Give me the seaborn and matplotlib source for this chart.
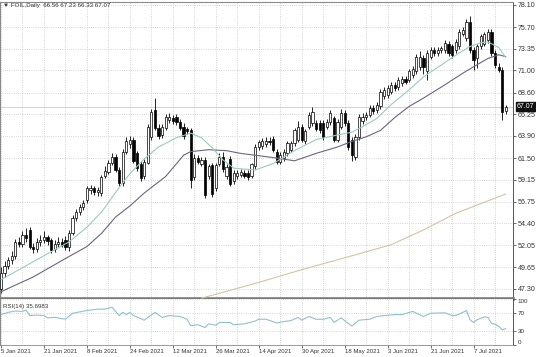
import matplotlib
matplotlib.use("Agg")
import matplotlib.pyplot as plt
import matplotlib.transforms as mtransforms
import seaborn as sns

# daily bars (bar 0 = 5 Jan 2021)
opens = [47.3, 49.0, 49.8, 50.4, 50.9, 52.4, 52.2, 53.2, 53.7, 51.9,
         51.6, 52.4, 52.6, 52.9, 52.6, 51.6, 52.2, 52.4, 52.6, 51.8,
         53.4, 55.0, 55.6, 56.2, 56.9, 58.0, 58.2, 57.8, 57.7, 59.6,
         60.0, 61.0, 61.6, 60.2, 58.8, 62.2, 63.0, 63.5, 62.0, 60.9,
         59.5, 61.0, 63.8, 66.7, 64.8, 64.0, 64.8, 65.6, 65.8, 66.0,
         65.4, 64.9, 64.6, 64.5, 59.4, 61.5, 60.9, 61.3, 59.5, 60.7,
         58.2, 60.9, 61.6, 59.5, 61.4, 59.0, 59.5, 59.7, 59.9, 59.9,
         59.6, 60.6, 62.7, 62.8, 63.0, 63.4, 63.6, 62.2, 61.1, 61.5,
         62.0, 62.4, 63.1, 63.5, 64.9, 63.3, 64.9, 65.3, 65.3, 65.3,
         65.3, 64.9, 65.4, 65.8, 63.5, 64.9, 66.4, 65.3, 63.5, 61.65,
         63.8, 65.5, 65.9, 66.2, 66.9, 66.7, 67.1, 68.2, 68.3, 68.7,
         69.4, 69.2, 69.6, 70.1, 70.0, 70.5, 70.9, 71.4, 72.4, 70.9,
         72.5, 73.2, 72.9, 73.2, 73.2, 73.9, 73.6, 73.2, 73.6, 75.0,
         74.5, 76.3, 73.2, 72.3, 73.6, 73.9, 74.3, 75.2, 72.9, 71.4,
         71.1, 66.56]
highs = [49.7, 50.3, 50.8, 51.4, 52.7, 52.9, 53.6, 53.9, 54.0, 52.3,
         52.8, 53.2, 53.6, 53.2, 52.8, 52.6, 52.9, 52.8, 53.0, 53.7,
         55.3, 56.0, 56.5, 57.0, 58.5, 58.6, 58.5, 58.4, 59.7, 60.6,
         61.3, 62.0, 61.9, 60.5, 62.5, 63.8, 63.9, 63.8, 62.3, 61.2,
         61.4, 65.2, 66.8, 68.0, 65.2, 65.2, 66.3, 66.4, 66.2, 66.3,
         65.7, 65.3, 64.9, 64.8, 61.9, 61.8, 61.6, 61.6, 60.9, 61.0,
         61.0, 62.0, 62.2, 60.8, 61.7, 60.2, 60.2, 60.3, 60.2, 60.2,
         61.0, 63.0, 63.5, 63.7, 63.8, 63.8, 63.9, 62.5, 62.1, 62.5,
         63.4, 63.4, 64.8, 65.5, 65.2, 64.7, 66.5, 67.0, 65.6, 65.6,
         65.6, 65.7, 66.7, 66.1, 65.7, 66.8, 66.7, 65.6, 63.8, 64.1,
         66.3, 66.4, 66.5, 67.2, 67.2, 67.6, 69.0, 69.2, 69.4, 69.7,
         69.7, 70.3, 70.4, 70.4, 71.2, 71.5, 72.8, 73.1, 72.7, 73.2,
         73.5, 73.5, 73.5, 73.7, 74.3, 74.2, 73.9, 74.4, 75.5, 75.7,
         76.6, 76.9, 73.5, 73.9, 75.0, 75.2, 75.5, 75.5, 73.2, 71.8,
         71.4, 67.23]
lows = [46.9, 48.6, 49.5, 50.0, 50.6, 51.8, 51.9, 52.4, 51.6, 51.2,
        51.3, 52.0, 52.3, 52.1, 51.2, 51.3, 51.9, 51.8, 51.5, 51.4,
        53.2, 54.7, 55.3, 55.9, 56.6, 57.6, 57.5, 57.4, 57.4, 59.3,
        59.8, 60.7, 60.0, 58.5, 58.5, 61.9, 62.6, 61.0, 60.1, 59.0,
        59.2, 60.8, 63.5, 64.5, 63.6, 63.7, 64.5, 65.3, 65.2, 65.1,
        64.5, 63.6, 64.1, 58.2, 59.1, 60.8, 60.6, 57.2, 59.2, 57.3,
        57.9, 60.6, 60.0, 59.2, 58.5, 58.7, 59.2, 59.4, 59.3, 59.1,
        59.3, 60.3, 62.4, 62.5, 62.7, 62.9, 62.1, 60.8, 60.8, 61.2,
        61.7, 62.1, 62.8, 63.2, 63.2, 63.0, 64.6, 65.0, 64.4, 64.2,
        63.5, 64.6, 65.1, 63.2, 63.2, 64.6, 65.0, 62.4, 61.2, 61.3,
        63.5, 65.2, 65.6, 65.9, 66.3, 66.4, 66.8, 67.9, 68.0, 68.4,
        68.8, 68.9, 69.3, 69.5, 69.7, 70.2, 70.6, 71.1, 70.6, 70.0,
        72.2, 72.6, 72.6, 72.9, 72.9, 72.6, 72.4, 72.9, 73.3, 74.7,
        74.2, 72.9, 71.0, 71.3, 73.3, 73.6, 74.0, 72.6, 71.3, 70.8,
        65.6, 66.33]
closes = [49.0, 49.8, 50.4, 50.9, 52.4, 52.2, 53.2, 52.8, 51.9, 51.6,
          52.4, 52.6, 52.9, 52.5, 51.5, 52.2, 52.4, 52.1, 51.8, 53.4,
          55.0, 55.6, 56.2, 56.6, 58.2, 58.2, 57.8, 58.0, 59.4, 60.1,
          61.0, 61.6, 60.2, 58.8, 62.2, 63.3, 63.5, 61.2, 60.4, 59.3,
          61.1, 64.9, 66.5, 64.8, 63.9, 64.9, 66.0, 66.0, 65.5, 65.4,
          64.8, 63.9, 64.4, 59.1, 61.5, 61.1, 61.3, 57.5, 60.6, 57.6,
          60.7, 61.6, 60.3, 60.5, 58.7, 59.9, 59.9, 60.0, 59.6, 59.4,
          60.8, 62.7, 63.2, 63.4, 63.4, 63.2, 62.4, 61.1, 61.8, 62.2,
          63.1, 63.1, 64.5, 64.9, 63.5, 64.4, 66.2, 66.5, 64.7, 64.5,
          63.8, 65.4, 66.4, 63.5, 65.4, 66.4, 65.3, 62.7, 61.8, 63.8,
          66.0, 66.0, 66.2, 66.9, 66.6, 67.3, 68.7, 68.9, 69.1, 69.4,
          69.1, 70.0, 70.1, 69.8, 70.9, 71.2, 72.5, 72.5, 71.4, 72.9,
          73.2, 72.9, 73.2, 73.4, 74.0, 72.9, 72.7, 74.1, 75.2, 75.4,
          76.3, 73.2, 72.1, 73.6, 74.7, 74.9, 75.2, 72.9, 71.6, 71.1,
          66.5, 67.07]

date_labels = ["5 Jan 2021", "21 Jan 2021", "8 Feb 2021", "24 Feb 2021",
               "12 Mar 2021", "26 Mar 2021", "14 Apr 2021", "30 Apr 2021",
               "18 May 2021", "3 Jun 2021", "21 Jun 2021", "7 Jul 2021"]
price_ticks = [78.10, 75.70, 73.35, 71.00, 68.60, 66.25, 63.90,
               61.50, 59.15, 56.75, 54.40, 52.05, 49.65, 47.30]
rsi_ticks = [0, 30, 70, 100]

# moving averages, sampled along the lines
fast_ma_bars = [0, 6, 12, 19, 24, 28, 33, 36, 40, 44, 49, 53, 56, 59, 62, 65,
                71, 76, 82, 88, 94, 98, 101, 105, 109, 114, 118, 123, 128,
                131, 134, 136, 139, 141]
fast_ma_vals = [48.3, 49.6, 50.9, 52.4, 54.0, 55.6, 58.3, 59.8, 61.4, 62.7,
                63.7, 64.2, 63.7, 62.6, 61.3, 60.4, 60.2, 60.9, 62.3, 63.5,
                64.0, 64.3, 64.9, 65.8, 67.3, 68.9, 70.3, 71.6, 72.9, 73.6,
                74.0, 74.1, 73.5, 72.4]
mid_ma_bars = [0, 9, 18, 24, 28, 32, 36, 40, 46, 51, 53, 58, 63, 67, 71, 77,
               82, 88, 94, 98, 102, 106, 110, 114, 118, 123, 129, 132, 136,
               139, 141]
mid_ma_vals = [47.0, 48.6, 50.6, 51.9, 53.3, 55.1, 56.3, 57.7, 59.5, 61.8,
               62.2, 62.4, 62.3, 62.0, 61.8, 61.5, 61.2, 62.0, 62.7, 63.3,
               63.8, 64.5, 65.9, 67.1, 68.0, 69.2, 70.7, 71.4, 72.3, 72.7,
               72.5]
slow_ma_bars = [56, 71, 85, 99, 109, 118, 127, 135, 141]
slow_ma_vals = [46.3, 47.9, 49.5, 51.0, 52.1, 53.7, 55.5, 56.7, 57.6]

rsi_bars = [0, 2, 4, 6, 7, 8, 10, 12, 13, 15, 18, 20, 24, 27, 29, 31, 33, 34,
            35, 36, 37, 40, 43, 45, 47, 50, 52, 53, 55, 57, 58, 60, 61, 64,
            65, 68, 71, 72, 74, 77, 79, 81, 83, 84, 86, 88, 90, 92, 93, 95,
            98, 100, 103, 105, 107, 110, 112, 115, 118, 120, 124, 126, 127,
            129, 130, 131, 132, 133, 135, 136, 137, 138, 139, 140, 141]
rsi_vals = [66, 71, 74, 73, 76, 64, 65, 64, 59, 60, 56, 69, 75, 78, 78, 82,
            64, 71, 66, 71, 64, 54, 71, 60, 64, 62, 56, 42, 44, 38, 46, 43,
            49, 49, 44, 46, 52, 56, 56, 48, 51, 53, 60, 54, 62, 56, 56, 60,
            49, 59, 41, 54, 56, 62, 64, 66, 66, 73, 62, 69, 70, 64, 64, 71,
            75, 55, 49, 55, 61, 60, 47, 45, 41, 33, 35.7]

sns.set_style("white")
plt.rcParams["font.family"] = ["Liberation Sans", "DejaVu Sans"]

txt = "#333333"
grid_col = "#c6c6c6"
frame_col = "#8a8a8a"

fig = plt.figure(figsize=(5.36, 3.57), dpi=100)
ax = fig.add_axes([0.0, 0.1625, 0.957, 0.8319])
ax_rsi = fig.add_axes([0.0, 0.0336, 0.957, 0.1289], sharex=ax)

bars = list(range(len(closes)))

# candles
ax.vlines(bars, lows, highs, color="black", linewidth=0.6, zorder=2)
body_low = [min(o, c) for o, c in zip(opens, closes)]
body_h = [max(abs(c - o), 0.06) for o, c in zip(opens, closes)]
fills = ["white" if c >= o else "black" for o, c in zip(opens, closes)]
ax.bar(bars, body_h, bottom=body_low, width=0.62, color=fills,
       edgecolor="black", linewidth=0.5, zorder=3)

# moving averages
sns.lineplot(x=slow_ma_bars, y=slow_ma_vals, ax=ax, color="#d6c3a3",
             linewidth=0.8, zorder=4)
sns.lineplot(x=mid_ma_bars, y=mid_ma_vals, ax=ax, color="#6e6480",
             linewidth=0.8, zorder=4)
sns.lineplot(x=fast_ma_bars, y=fast_ma_vals, ax=ax, color="#9ccbbf",
             linewidth=0.8, zorder=4)

# last price line and box
last = closes[-1]
ax.axhline(last, color="#c0c0c0", linewidth=0.5, zorder=1)
trans = mtransforms.blended_transform_factory(ax.transAxes, ax.transData)
ax.text(1.008, last, f"{last:.2f}", transform=trans, fontsize=5.0,
        color="white", va="center", ha="left", clip_on=False,
        bbox=dict(boxstyle="square,pad=0.15", fc="#111111", ec="#111111"))

ax.set_xlim(-0.28, 143.0)
ax.set_ylim(46.21, 78.425)
ax.yaxis.tick_right()
ax.set_yticks(price_ticks)
ax.set_yticklabels([f"{p:.2f}" for p in price_ticks])
ax.tick_params(axis="y", labelsize=5.1, colors=txt, length=2, width=0.5,
               pad=1.5, right=True)
ax.tick_params(axis="x", bottom=False, labelbottom=False)
ax.set_xticks(list(range(0, 142, 12)))
ax.set_xticks(list(range(0, 142, 6)), minor=True)
ax.grid(True, which="both", axis="x", linestyle=":", color=grid_col,
        linewidth=0.6)
ax.grid(True, which="major", axis="y", linestyle=":", color=grid_col,
        linewidth=0.6)
ax.set_axisbelow(True)
ax.set_xlabel("")
ax.set_ylabel("")

for side in ["left", "top"]:
    ax.spines[side].set_color(frame_col)
    ax.spines[side].set_linewidth(0.8)
ax.spines["right"].set_color("#555555")
ax.spines["right"].set_linewidth(0.7)
ax.spines["bottom"].set_color("#7a7a7a")
ax.spines["bottom"].set_linewidth(2.6)

fig.text(0.006, 1 - 6 / 357, "\u25bc FOIL,Daily  66.56 67.23 66.33 67.07",
         fontsize=4.4, color=txt, va="center", ha="left")

# RSI panel
sns.lineplot(x=rsi_bars, y=rsi_vals, ax=ax_rsi, color="#8fc1d0",
             linewidth=0.8)
ax_rsi.set_ylim(0, 100)
ax_rsi.yaxis.tick_right()
ax_rsi.set_yticks(rsi_ticks)
ax_rsi.set_yticklabels([str(v) for v in rsi_ticks])
ax_rsi.tick_params(axis="y", labelsize=4.5, colors=txt, length=2, width=0.5,
                   pad=1.5)
ylabs = ax_rsi.get_yticklabels()
ylabs[0].set_va("bottom")
ylabs[-1].set_va("top")
ax_rsi.set_xticks(list(range(0, 142, 12)))
ax_rsi.set_xticklabels(date_labels)
for lab in ax_rsi.get_xticklabels():
    lab.set_ha("left")
ax_rsi.tick_params(axis="x", labelsize=4.3, colors=txt, length=2, width=0.5,
                   pad=1, bottom=True)
ax_rsi.grid(True, which="both", axis="x", linestyle=":", color=grid_col,
            linewidth=0.6)
ax_rsi.grid(True, axis="y", linestyle=":", color=grid_col, linewidth=0.6)
ax_rsi.set_axisbelow(True)
ax_rsi.set_xlabel("")
ax_rsi.set_ylabel("")
ax_rsi.spines["top"].set_visible(False)
ax_rsi.spines["left"].set_color(frame_col)
ax_rsi.spines["left"].set_linewidth(0.8)
ax_rsi.spines["bottom"].set_color(frame_col)
ax_rsi.spines["bottom"].set_linewidth(0.6)
ax_rsi.spines["right"].set_color("#555555")
ax_rsi.spines["right"].set_linewidth(0.7)
ax_rsi.text(0.006, 0.9, "RSI(14) 35.6983", transform=ax_rsi.transAxes,
            fontsize=4.4, color=txt, va="top", ha="left")

fig.savefig("out.png", dpi=100, facecolor="white")
